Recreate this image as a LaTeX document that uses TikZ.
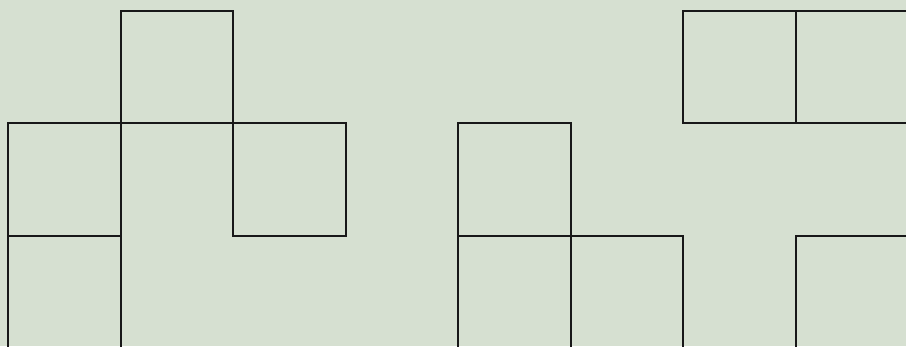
\documentclass[tikz,border=0pt]{standalone}
\definecolor{bgc}{RGB}{214,224,209}
\definecolor{ln}{RGB}{24,24,24}
\begin{document}
\begin{tikzpicture}[x=1pt,y=-1pt,cell/.style={draw=ln,line width=1.7pt}]
\useasboundingbox (0,0) rectangle (906,346);
\fill[bgc] (0,0) rectangle (906,346);
\clip (0,0) rectangle (906,346);
\def\ux{112.5}
\foreach \c/\r in {1/0,0/1,2/1,0/2,4/1,4/2,5/2,6/0,7/0,7/2}{
  \draw[cell] ({8.2+\c*\ux},{10.7+\r*\ux}) rectangle ++(\ux,\ux);
}
\end{tikzpicture}
\end{document}
